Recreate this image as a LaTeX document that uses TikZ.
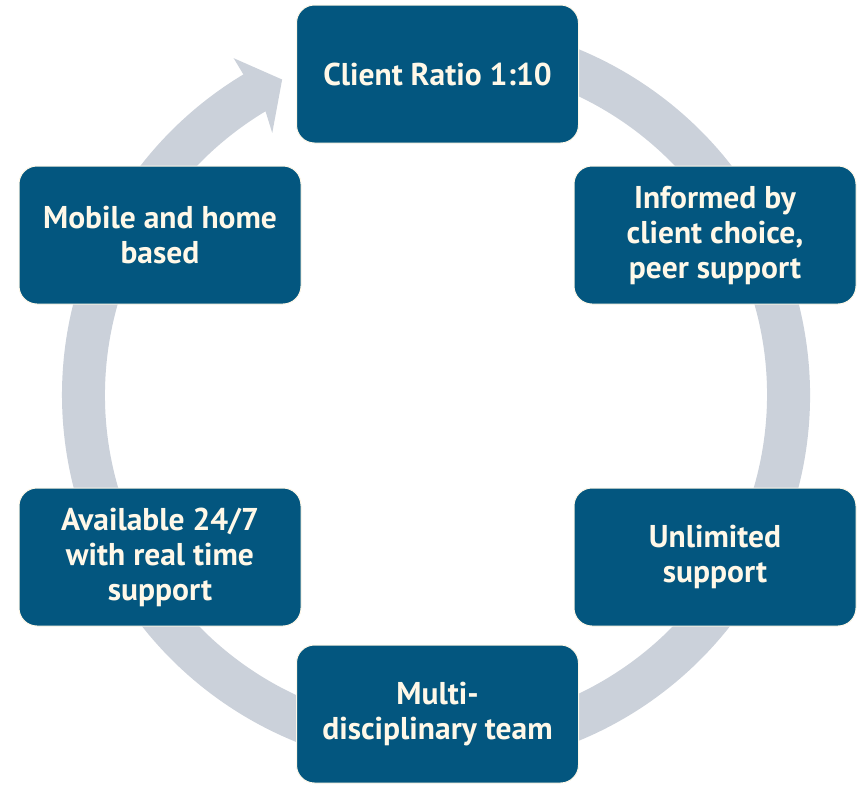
\documentclass[tikz,border=0pt]{standalone}
\usepackage{fontspec}
\setmainfont{PT Sans}
\definecolor{boxblue}{HTML}{03567F}
\definecolor{ringgray}{HTML}{CBD1DA}
\definecolor{cream}{HTML}{FFF8E8}
\begin{document}
\begin{tikzpicture}[x=1pt,y=1pt,
  box/.style={draw=cream, line width=1pt, fill=boxblue, rounded corners=18pt,
    minimum width=282pt, minimum height=138pt, text=cream,
    font=\fontsize{31.5}{35}\selectfont\bfseries, align=center, inner sep=0pt}]
\useasboundingbox (0,0) rectangle (859,-785);
\begin{scope}[shift={(436,-395)}]
\fill[ringgray] (100:374) arc[start angle=100, end angle=-239, radius=374]
  -- (-239:393) -- (-244:351) -- (-238:309) -- (-239:331)
  arc[start angle=-239, end angle=100, radius=331] -- cycle;
\end{scope}
\node[box] (top) at (437.5,-74) {Client Ratio 1:10};
\node[box] (ru) at (715,-235) {Informed by\\client choice,\\peer support};
\node[box] (rl) at (715,-557) {Unlimited\\support};
\node[box] (bot) at (437.5,-714) {Multi-\\disciplinary team};
\node[box] (ll) at (160,-557) {Available 24/7\\with real time\\support};
\node[box] (lu) at (160,-235) {Mobile and home\\based};
\end{tikzpicture}
\end{document}
